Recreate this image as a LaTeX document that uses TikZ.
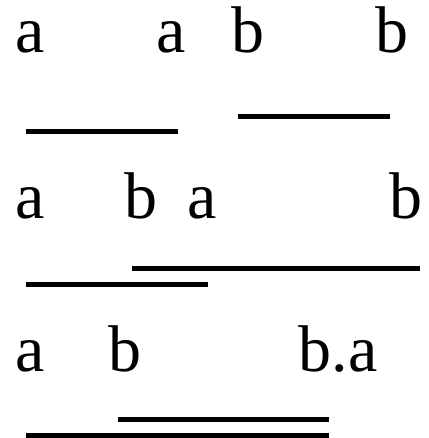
\documentclass[tikz,border=0pt]{standalone}
\usepackage{fontspec}
\setmainfont{Liberation Serif}
\usetikzlibrary{positioning}

\begin{document}
\begin{tikzpicture}[x=1pt,y=-1pt,
 every node/.style={font=\fontsize{66}{66}\selectfont,inner sep=0pt,anchor=base},
 bar/.style={line width=5pt}]
\useasboundingbox (0,0) rectangle (428,438);
% row 1: a before b
\node (a1s) at (30,53) {a};
\node (a1e) at (171,53) {a};
\node (b1s) at (248,53) {b};
\node (b1e) at (392,53) {b};
\coordinate (la1s) at (26,132);  \coordinate (la1e) at (178,132);
\coordinate (lb1s) at (238,117); \coordinate (lb1e) at (390,117);
\draw[bar] (la1s) -- (la1e);
\draw[bar] (lb1s) -- (lb1e);
% row 2: a overlaps b
\node (a2s) at (30,218) {a};
\node (b2s) at (141,218) {b};
\node (a2e) at (202,218) {a};
\node (b2e) at (406,218) {b};
\coordinate (lb2s) at (132,268); \coordinate (lb2e) at (420,268);
\coordinate (la2s) at (26,284);  \coordinate (la2e) at (208,284);
\draw[bar] (lb2s) -- (lb2e);
\draw[bar] (la2s) -- (la2e);
% row 3: b finishes a
\node (a3s) at (30,371) {a};
\node (b3s) at (125,371) {b};
\node (ba3e) at (338,371) {b.a};
\coordinate (lb3s) at (118,419); \coordinate (lb3e) at (329,419);
\coordinate (la3s) at (26,435);  \coordinate (la3e) at (329,435);
\draw[bar] (lb3s) -- (lb3e);
\draw[bar] (la3s) -- (la3e);
\end{tikzpicture}
\end{document}
